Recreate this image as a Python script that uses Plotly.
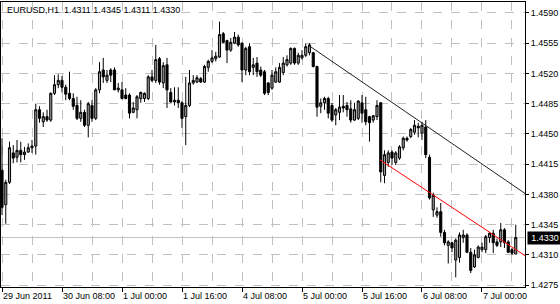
import plotly.graph_objects as go

opens = [1.4408,1.4368,1.4394,1.4428,1.4423,1.4431,1.4426,1.4429,1.4434,1.4436,
         1.4478,1.4464,1.4470,1.4466,1.4497,1.4507,1.4512,1.4504,1.4497,1.4491,
         1.4483,1.4468,1.4475,1.4460,1.4483,1.4468,1.4501,1.4524,1.4512,1.4524,
         1.4524,1.4501,1.4501,1.4495,1.4495,1.4475,1.4478,1.4491,1.4491,1.4491,
         1.4516,1.4512,1.4537,1.4509,1.4530,1.4498,1.4487,1.4489,1.4486,1.4470,
         1.4483,1.4509,1.4510,1.4514,1.4510,1.4527,1.4534,1.4537,1.4539,1.4566,
         1.4558,1.4547,1.4555,1.4562,1.4555,1.4524,1.4551,1.4527,1.4532,1.4524,
         1.4522,1.4509,1.4503,1.4510,1.4510,1.4521,1.4530,1.4532,1.4549,1.4532,
         1.4538,1.4541,1.4544,1.4544,1.4528,1.4482,1.4486,1.4491,1.4483,1.4472,
         1.4475,1.4482,1.4483,1.4479,1.4466,1.4468,1.4486,1.4478,1.4470,1.4466,
         1.4470,1.4486,1.4402,1.4417,1.4429,1.4417,1.4422,1.4434,1.4445,1.4447,
         1.4452,1.4459,1.4451,1.4458,1.4423,1.4362,1.4356,1.4360,1.4336,1.4321,
         1.4324,1.4304,1.4307,1.4330,1.4333,1.4313,1.4296,1.4307,1.4316,1.4316,
         1.4330,1.4335,1.4325,1.4325,1.4339,1.4325,1.4316,1.4311]
highs = [1.4445,1.4397,1.4441,1.4437,1.4443,1.4441,1.4435,1.4439,1.4443,1.4485,
         1.4482,1.4475,1.4478,1.4498,1.4518,1.4519,1.4517,1.4507,1.4522,1.4497,
         1.4493,1.4489,1.4478,1.4487,1.4489,1.4503,1.4533,1.4538,1.4524,1.4526,
         1.4527,1.4509,1.4510,1.4503,1.4497,1.4487,1.4495,1.4499,1.4498,1.4518,
         1.4524,1.4553,1.4539,1.4533,1.4538,1.4503,1.4504,1.4504,1.4488,1.4516,
         1.4524,1.4518,1.4518,1.4516,1.4530,1.4536,1.4547,1.4545,1.4580,1.4568,
         1.4559,1.4561,1.4568,1.4565,1.4556,1.4551,1.4555,1.4538,1.4539,1.4528,
         1.4524,1.4510,1.4524,1.4527,1.4532,1.4539,1.4541,1.4550,1.4550,1.4544,
         1.4547,1.4555,1.4555,1.4545,1.4529,1.4491,1.4493,1.4493,1.4486,1.4480,
         1.4495,1.4495,1.4487,1.4489,1.4486,1.4489,1.4495,1.4493,1.4471,1.4472,
         1.4489,1.4487,1.4431,1.4431,1.4431,1.4430,1.4437,1.4447,1.4447,1.4457,
         1.4466,1.4463,1.4464,1.4466,1.4426,1.4382,1.4365,1.4370,1.4339,1.4327,
         1.4325,1.4329,1.4336,1.4339,1.4335,1.4318,1.4316,1.4321,1.4324,1.4333,
         1.4336,1.4339,1.4329,1.4347,1.4341,1.4327,1.4318,1.4345]
lows = [1.4356,1.4346,1.4392,1.4416,1.4417,1.4417,1.4420,1.4428,1.4428,1.4426,
        1.4463,1.4458,1.4464,1.4464,1.4495,1.4503,1.4498,1.4489,1.4489,1.4478,
        1.4466,1.4464,1.4458,1.4446,1.4464,1.4466,1.4497,1.4509,1.4509,1.4510,
        1.4501,1.4498,1.4490,1.4490,1.4468,1.4474,1.4468,1.4486,1.4487,1.4489,
        1.4510,1.4509,1.4507,1.4503,1.4480,1.4486,1.4483,1.4480,1.4457,1.4437,
        1.4481,1.4507,1.4509,1.4509,1.4509,1.4522,1.4532,1.4534,1.4538,1.4555,
        1.4532,1.4545,1.4554,1.4551,1.4510,1.4518,1.4518,1.4518,1.4516,1.4516,
        1.4495,1.4495,1.4501,1.4509,1.4509,1.4518,1.4528,1.4530,1.4530,1.4530,
        1.4536,1.4539,1.4541,1.4527,1.4470,1.4474,1.4478,1.4468,1.4464,1.4460,
        1.4466,1.4475,1.4470,1.4463,1.4465,1.4466,1.4463,1.4460,1.4441,1.4463,
        1.4466,1.4394,1.4393,1.4412,1.4414,1.4414,1.4420,1.4431,1.4441,1.4445,
        1.4449,1.4446,1.4443,1.4422,1.4374,1.4354,1.4353,1.4331,1.4321,1.4300,
        1.4313,1.4284,1.4301,1.4324,1.4312,1.4289,1.4295,1.4306,1.4313,1.4312,
        1.4324,1.4312,1.4319,1.4319,1.4318,1.4312,1.4310,1.4311]
closes = [1.4365,1.4394,1.4434,1.4422,1.4431,1.4426,1.4429,1.4434,1.4436,1.4478,
          1.4468,1.4470,1.4466,1.4497,1.4507,1.4512,1.4504,1.4496,1.4491,1.4482,
          1.4468,1.4475,1.4460,1.4485,1.4468,1.4501,1.4522,1.4516,1.4518,1.4518,
          1.4501,1.4503,1.4491,1.4491,1.4474,1.4480,1.4493,1.4498,1.4497,1.4516,
          1.4512,1.4536,1.4510,1.4529,1.4501,1.4487,1.4489,1.4486,1.4468,1.4483,
          1.4509,1.4512,1.4515,1.4510,1.4528,1.4534,1.4538,1.4540,1.4565,1.4556,
          1.4547,1.4556,1.4562,1.4553,1.4524,1.4549,1.4522,1.4530,1.4522,1.4518,
          1.4497,1.4498,1.4518,1.4522,1.4527,1.4532,1.4536,1.4549,1.4532,1.4541,
          1.4541,1.4551,1.4553,1.4528,1.4481,1.4486,1.4491,1.4474,1.4466,1.4478,
          1.4481,1.4480,1.4478,1.4466,1.4478,1.4488,1.4474,1.4464,1.4463,1.4471,
          1.4483,1.4406,1.4426,1.4428,1.4422,1.4428,1.4435,1.4445,1.4443,1.4455,
          1.4460,1.4457,1.4460,1.4426,1.4376,1.4379,1.4360,1.4336,1.4324,1.4325,
          1.4318,1.4327,1.4333,1.4333,1.4313,1.4292,1.4310,1.4319,1.4319,1.4331,
          1.4335,1.4324,1.4321,1.4339,1.4324,1.4313,1.4312,1.4330]

time_tick_bars = [0, 16, 32, 48, 64, 80, 96, 112, 128]
time_tick_labels = ["29 Jun 2011", "30 Jun 08:00", "1 Jul 00:00", "1 Jul 16:00",
                    "4 Jul 08:00", "5 Jul 00:00", "5 Jul 16:00", "6 Jul 08:00",
                    "7 Jul 00:00"]
price_ticks = [1.4275, 1.4310, 1.4345, 1.4380, 1.4415, 1.4450, 1.4485, 1.4520, 1.4555, 1.4590]

trend_black_x = [81.6, 139.5]
trend_black_y = [1.4553, 1.4381]
trend_red_x = [100.8, 139.5]
trend_red_y = [1.4420, 1.4309]

symbol = "EURUSD,H1"
last_price = closes[-1]

bars = list(range(len(opens)))
FONT = "Liberation Sans, Arial, sans-serif"

fig = go.Figure()
fig.add_trace(go.Candlestick(
    x=bars, open=opens, high=highs, low=lows, close=closes,
    increasing=dict(line=dict(color="black", width=1), fillcolor="#9a9a9a"),
    decreasing=dict(line=dict(color="black", width=1), fillcolor="black"),
    whiskerwidth=0, showlegend=False, hoverinfo="skip",
))
fig.add_trace(go.Scatter(x=trend_black_x, y=trend_black_y, mode="lines",
                         line=dict(color="#202020", width=1), showlegend=False, hoverinfo="skip"))
fig.add_trace(go.Scatter(x=trend_red_x, y=trend_red_y, mode="lines",
                         line=dict(color="#ff0000", width=1), showlegend=False, hoverinfo="skip"))

fig.add_shape(type="line", xref="paper", x0=0, x1=1, yref="y", y0=last_price, y1=last_price,
              line=dict(color="#c0c0c0", width=1), layer="below")

fig.add_annotation(xref="paper", yref="paper", x=0.0, y=1.0, xanchor="left", yanchor="top",
                   xshift=4, yshift=-1, showarrow=False,
                   text=f"{symbol}  {opens[-1]:.4f} {highs[-1]:.4f} {lows[-1]:.4f} {closes[-1]:.4f}",
                   font=dict(family=FONT, size=9, color="black"))
fig.add_annotation(xref="paper", yref="y", x=1.0, y=last_price, xanchor="left", yanchor="middle",
                   xshift=2, showarrow=False, text=f"{last_price:.4f}",
                   bgcolor="black", font=dict(family=FONT, size=9, color="white"),
                   borderpad=1, width=32)

grid = dict(showgrid=True, gridcolor="#c0c0c0", griddash="dash", gridwidth=1)
fig.update_layout(
    width=560, height=304,
    margin=dict(l=1, r=35, t=2, b=17),
    paper_bgcolor="white", plot_bgcolor="white",
    boxgap=0.25, boxgroupgap=0.25,
    showlegend=False,
    xaxis=dict(range=[-0.27, 139.47], rangeslider=dict(visible=False),
               tickmode="array", tickvals=time_tick_bars, ticktext=time_tick_labels,
               ticks="outside", ticklen=4, tickcolor="black",
               ticklabelposition="outside right",
               tickfont=dict(family=FONT, size=9, color="black"),
               showline=True, mirror=True, linecolor="black", linewidth=1,
               zeroline=False,
               minor=dict(tickvals=list(range(8, 140, 8)), showgrid=True,
                          gridcolor="#c0c0c0", griddash="dash", ticks=""),
               **grid),
    yaxis=dict(range=[1.42728, 1.46027], side="right",
               tickmode="array", tickvals=price_ticks,
               ticktext=[f"{v:.4f}" for v in price_ticks],
               ticks="outside", ticklen=3, tickcolor="black",
               tickfont=dict(family=FONT, size=9, color="black"),
               showline=True, mirror=True, linecolor="black", linewidth=1,
               zeroline=False, **grid),
)

fig.write_html("out.html")
